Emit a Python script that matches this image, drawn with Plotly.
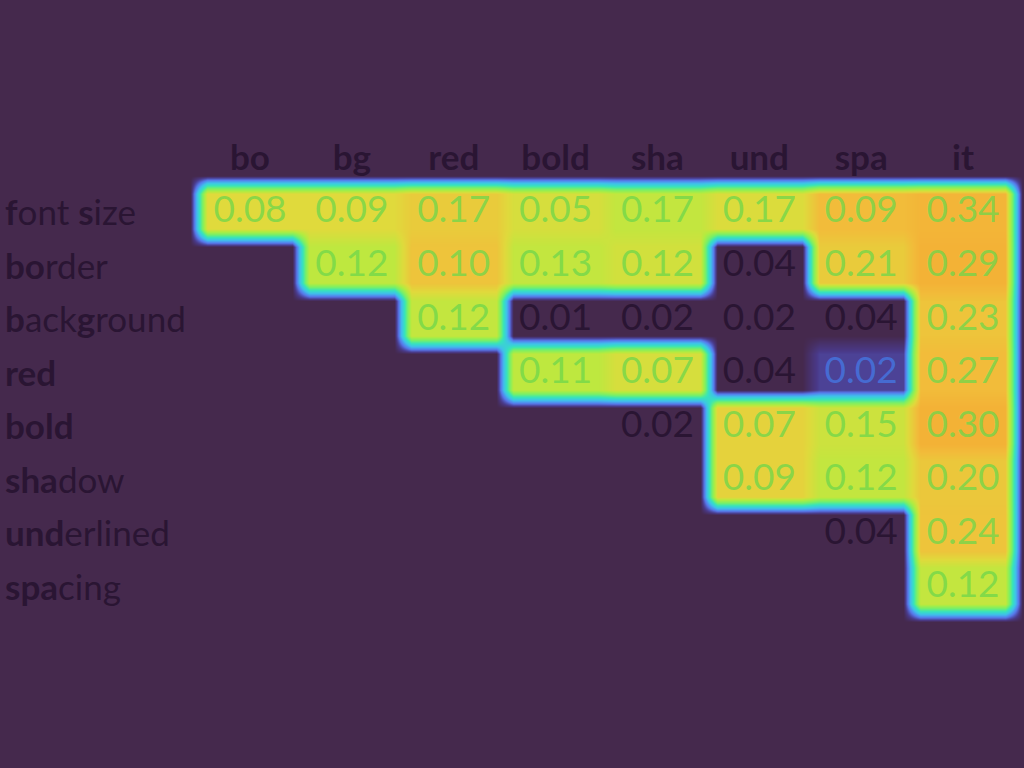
import numpy as np
import plotly.graph_objects as go

col_labels = ["bo", "bg", "red", "bold", "sha", "und", "spa", "it"]
row_labels = ["<b>f</b>ont <b>s</b>ize", "<b>bo</b>rder", "<b>b</b>ack<b>g</b>round", "<b>red</b>",
              "<b>bold</b>", "<b>sha</b>dow", "<b>und</b>erlined", "<b>spa</b>cing"]

# table values (upper triangle, None = empty)
values = [
    [0.08, 0.09, 0.17, 0.05, 0.17, 0.17, 0.09, 0.34],
    [None, 0.12, 0.10, 0.13, 0.12, 0.04, 0.21, 0.29],
    [None, None, 0.12, 0.01, 0.02, 0.02, 0.04, 0.23],
    [None, None, None, 0.11, 0.07, 0.04, 0.02, 0.27],
    [None, None, None, None, 0.02, 0.07, 0.15, 0.30],
    [None, None, None, None, None, 0.09, 0.12, 0.20],
    [None, None, None, None, None, None, 0.04, 0.24],
    [None, None, None, None, None, None, None, 0.12],
]

# saliency overlay intensity per cell (0 = none)
saliency = [
    [0.64, 0.64, 0.68, 0.62, 0.58, 0.63, 0.72, 0.74],
    [0.00, 0.57, 0.70, 0.58, 0.61, 0.00, 0.68, 0.75],
    [0.00, 0.00, 0.58, 0.00, 0.00, 0.00, 0.00, 0.70],
    [0.00, 0.00, 0.00, 0.57, 0.62, 0.00, 0.07, 0.72],
    [0.00, 0.00, 0.00, 0.00, 0.00, 0.66, 0.60, 0.75],
    [0.00, 0.00, 0.00, 0.00, 0.00, 0.66, 0.58, 0.69],
    [0.00, 0.00, 0.00, 0.00, 0.00, 0.00, 0.00, 0.70],
    [0.00, 0.00, 0.00, 0.00, 0.00, 0.00, 0.00, 0.58],
]

BG = "#45294d"
DARK = "#2a1533"

# build padded block grid (each cell split into sub-bricks, smoothing done by plotly)
n = 8
fx, fy = 6, 3
S = np.zeros((n + 2, n + 2))
S[1:-1, 1:-1] = np.array(saliency)
Z = np.kron(S, np.ones((fy, fx)))
xs = np.array([c - 1 - 0.5 + (k + 0.5) / fx for c in range(n + 2) for k in range(fx)])
ys = np.array([r - 1 - 0.5 + (k + 0.5) / fy for r in range(n + 2) for k in range(fy)])

colorscale = [
    [0.00, BG],
    [0.06, "#4a3a8a"],
    [0.14, "#5878ec"],
    [0.24, "#40c0ec"],
    [0.34, "#36e4bc"],
    [0.44, "#78f068"],
    [0.55, "#b4ec40"],
    [0.64, "#e0da3c"],
    [0.72, "#f2bc3a"],
    [0.82, "#f59a2e"],
    [1.00, "#e05a20"],
]

fig = go.Figure()
fig.add_trace(go.Heatmap(x=xs, y=ys, z=Z, zmin=0, zmax=1, zsmooth="best",
                         colorscale=colorscale, showscale=False, hoverinfo="skip"))

# numbers
tx, ty, tt, tc = [], [], [], []
for r in range(n):
    for c in range(n):
        v = values[r][c]
        if v is None:
            continue
        tx.append(c)
        ty.append(r + 0.04)
        tt.append(f"{v:.2f}")
        s = saliency[r][c]
        if s >= 0.4:
            tc.append("rgba(110,215,75,0.75)")
        elif s > 0:
            tc.append("rgba(70,110,215,0.95)")
        else:
            tc.append(DARK)
fig.add_trace(go.Scatter(x=tx, y=ty, text=tt, mode="text",
                         textfont=dict(family="Lato", size=37, color=tc),
                         hoverinfo="skip", showlegend=False))

# column headers
fig.add_trace(go.Scatter(x=list(range(n)), y=[-0.93] * n,
                         text=[f"<b>{c}</b>" for c in col_labels], mode="text",
                         textfont=dict(family="Lato", size=35, color=DARK),
                         hoverinfo="skip", showlegend=False))

# row labels
for r, lab in enumerate(row_labels):
    fig.add_annotation(x=0.003, xref="paper", y=r, yref="y", text=lab,
                       showarrow=False, xanchor="left", yanchor="middle",
                       font=dict(family="Lato", size=35, color=DARK))

px0, dx = 250.0, 101.86
py0, dy = 211.0, 53.57
fig.update_xaxes(range=[(0 - px0) / dx, (1024 - px0) / dx], visible=False, showgrid=False, zeroline=False)
fig.update_yaxes(range=[(768 - py0) / dy, (0 - py0) / dy], visible=False, showgrid=False, zeroline=False)
fig.update_layout(width=1024, height=768, margin=dict(l=0, r=0, t=0, b=0),
                  paper_bgcolor=BG, plot_bgcolor=BG, showlegend=False)

fig.write_html("out.html", config={"displayModeBar": False},
               post_script="document.body.style.margin='0px';document.body.style.background='%s';" % BG)
